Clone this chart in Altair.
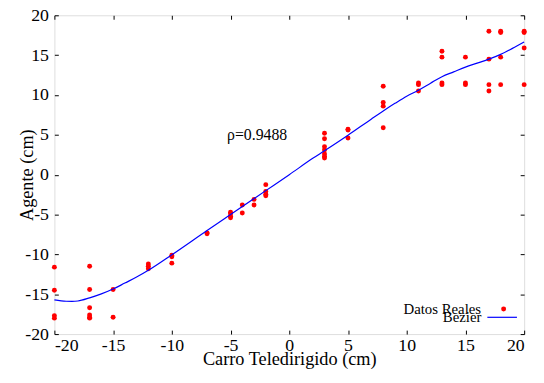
import altair as alt
import pandas as pd

# ---- data ----
pts_x = [-20, -20, -20, -20,
         -17, -17, -17, -17, -17, -17,
         -15, -15,
         -12, -12, -12,
         -10, -10, -10,
         -7, -7,
         -5, -5, -5, -5,
         -4, -4,
         -3, -3,
         -2, -2, -2, -2,
         3, 3, 3, 3, 3, 3, 3,
         5, 5, 5,
         8, 8, 8, 8,
         11, 11, 11,
         13, 13, 13, 13,
         15, 15, 15,
         17, 17, 17, 17,
         18, 18, 18, 18,
         20, 20, 20, 20]
pts_y = [-11.6, -14.5, -17.7, -18.0,
         -11.5, -14.4, -16.7, -17.6, -17.9, -18.0,
         -14.4, -17.9,
         -11.2, -11.5, -11.8,
         -10.1, -10.3, -11.1,
         -7.3, -7.4,
         -4.7, -4.9, -5.2, -5.4,
         -3.8, -4.8,
         -3.1, -3.8,
         -1.25, -2.1, -2.45, -2.65,
         5.2, 4.5, 3.5, 3.1, 2.6, 2.3, 2.1,
         5.7, 5.6, 4.6,
         11.1, 9.05, 8.6, 5.9,
         11.5, 11.3, 10.5,
         15.5, 14.75, 11.5, 11.3,
         14.75, 11.5, 11.3,
         18.0, 14.5, 11.3, 10.5,
         18.0, 17.85, 14.75, 11.3,
         18.0, 17.85, 15.9, 11.3]

curve_x = [-20, -19, -18.5, -18, -17, -16, -15, -14, -13, -12, -10, -7, -5,
           -2, 0, 2, 3, 5, 7, 8, 9, 10, 11, 12, 13, 14, 15, 16, 17, 18, 19, 20]
curve_y = [-15.7, -15.88, -15.9, -15.85, -15.45, -14.95, -14.35, -13.6, -12.85,
           -12.0, -10.05, -7.0, -5.0, -2.0, 0.0, 2.05, 3.0, 4.95, 7.0, 8.0, 8.95,
           9.85, 10.6, 11.45, 12.3, 12.9, 13.5, 14.0, 14.5, 15.1, 15.85, 16.65]

tick_vals = [-20, -15, -10, -5, 0, 5, 10, 15, 20]
label_x = [-5.3]
label_y = [5.0]
label_text = ["\u03c1=0.9488"]

FONT = "Liberation Serif"

pts = pd.DataFrame({"x": pts_x, "y": pts_y, "serie": "Datos Reales"})
crv = pd.DataFrame({"x": curve_x, "y": curve_y, "serie": "Bezier"})
lab = pd.DataFrame({"x": label_x, "y": label_y, "t": label_text})

xs = alt.Scale(domain=[-20, 20], nice=False, zero=False)
ys = alt.Scale(domain=[-20, 20], nice=False, zero=False)

common = dict(values=tick_vals, offset=-4, tickSize=4, domain=False, grid=False,
              tickColor="black", tickWidth=1)

x_bottom = alt.Axis(orient="bottom", labelPadding=3, labelFont=FONT, labelFontSize=18,
                    labelColor="black", labelExpr="'' + datum.value",
                    title="Carro Teledirigido (cm)", titleFont=FONT, titleFontSize=18.5,
                    titleFontWeight="normal", titleColor="black",
                    titleBaseline="alphabetic", titleY=34.5, **common)
x_top = alt.Axis(orient="top", labels=False, title=None, **common)
y_left = alt.Axis(orient="left", labelPadding=6, labelFont=FONT, labelFontSize=18,
                  labelColor="black", labelExpr="'' + datum.value",
                  title="Agente (cm)", titleFont=FONT, titleFontSize=18.5,
                  titleFontWeight="normal", titleColor="black",
                  titleBaseline="alphabetic", titleX=-26, **common)
y_right = alt.Axis(orient="right", labels=False, title=None, **common)

leg1 = alt.Legend(orient="none", legendX=447.7, legendY=290, title=None, padding=0,
                  labelFont=FONT, labelFontSize=15, labelColor="black",
                  labelAlign="right", labelOffset={"expr": "-30.3"}, symbolType="circle",
                  symbolSize=25, symbolStrokeWidth=0)
leg2 = alt.Legend(orient="none", legendX=437.7, legendY=290, title=None, padding=0,
                  labelFont=FONT, labelFontSize=15, labelColor="black",
                  labelAlign="right", labelOffset={"expr": "-37"}, symbolType="stroke",
                  symbolSize=900, symbolStrokeWidth=1.2)

points = alt.Chart(pts).mark_circle(size=25, opacity=1).encode(
    x=alt.X("x:Q", scale=xs, axis=x_bottom),
    y=alt.Y("y:Q", scale=ys, axis=y_left),
    fill=alt.Fill("serie:N", scale=alt.Scale(domain=["Datos Reales"], range=["#ff0000"]),
                  legend=leg1),
)

line = alt.Chart(crv).mark_line(strokeWidth=1.2, interpolate="monotone").encode(
    x=alt.X("x:Q", scale=xs, axis=x_top),
    y=alt.Y("y:Q", scale=ys, axis=y_right),
    stroke=alt.Stroke("serie:N", scale=alt.Scale(domain=["Bezier"], range=["#0000ff"]),
                      legend=leg2),
)

text = alt.Chart(lab).mark_text(align="left", baseline="middle", font=FONT,
                                fontSize=16, color="black").encode(
    x=alt.X("x:Q", scale=xs, axis=None),
    y=alt.Y("y:Q", scale=ys, axis=None),
    text="t:N",
)

chart = alt.layer(points, line, text).resolve_axis(
    x="independent", y="independent"
).resolve_scale(fill="independent", stroke="independent").properties(
    width=476, height=323,
    padding={"left": 47, "top": 5, "right": 12, "bottom": 34},
    autosize=alt.AutoSizeParams(type="none"),
).configure_view(stroke="black", strokeWidth=1).configure(background="white")

chart.save("out.html", embed_options={"renderer": "svg", "actions": False})
